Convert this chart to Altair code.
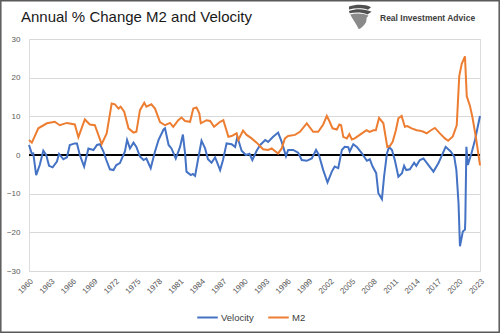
import altair as alt
import pandas as pd

# ---- data ----
m2_years = [1960.0, 1960.4, 1961.3, 1962.5, 1963.6, 1964.3, 1965.3, 1966.4, 1966.9, 1967.8,
            1968.5, 1969.2, 1970.15, 1970.85, 1971.55, 1972.0, 1972.5, 1972.8, 1973.3, 1973.9,
            1974.6, 1975.0, 1975.5, 1976.1, 1976.4, 1977.1, 1977.6, 1978.3, 1979.0, 1979.7,
            1980.15, 1980.85, 1981.3, 1981.8, 1982.5, 1982.95, 1983.4, 1983.8, 1984.0, 1984.8,
            1985.3, 1985.85, 1986.7, 1987.15, 1987.85, 1988.3, 1989.0, 1989.25, 1989.9, 1990.4,
            1991.1, 1991.8, 1992.7, 1993.4, 1993.9, 1994.8, 1995.3, 1995.75, 1996.2, 1997.15,
            1997.85, 1998.8, 1999.7, 2000.4, 2001.1, 2001.6, 2002.0, 2002.4, 2003.0, 2003.35,
            2003.6, 2003.9, 2004.4, 2004.75, 2005.1, 2005.5, 2006.2, 2007.15, 2007.6, 2008.1,
            2008.45, 2008.9, 2009.5, 2010.05, 2010.4, 2010.8, 2011.25, 2011.6, 2012.05, 2012.5,
            2012.85, 2013.45, 2014.15, 2014.6, 2015.1, 2015.55, 2016.15, 2016.7, 2017.4, 2018.1,
            2018.55, 2019.2, 2019.75, 2020.1, 2020.45, 2020.9, 2021.15, 2021.6, 2021.95, 2022.45,
            2023.0]
m2_values = [3.9, 3.2, 6.9, 8.2, 8.6, 7.7, 8.3, 7.9, 4.6, 9.2,
             7.9, 7.7, 2.8, 5.6, 13.3, 13.1, 12.0, 12.5, 11.2, 6.9,
             5.8, 6.0, 11.6, 13.5, 12.5, 13.1, 12.0, 8.5, 7.7, 8.3,
             7.3, 9.0, 9.7, 8.8, 8.6, 12.0, 12.3, 10.7, 8.2, 9.0,
             8.8, 7.3, 8.6, 9.0, 4.7, 4.9, 5.6, 3.9, 6.3, 5.2,
             4.3, 3.2, 1.5, 1.3, 1.7, 0.4, 1.7, 4.3, 4.9, 5.2,
             6.0, 8.2, 6.0, 6.0, 7.9, 10.1, 8.6, 6.9, 6.6, 7.9,
             7.7, 4.7, 4.3, 5.4, 4.0, 4.3, 5.2, 6.4, 6.0, 6.4,
             6.4, 9.6, 8.2, 2.1, 2.3, 3.4, 6.4, 9.5, 10.1, 7.3,
             7.5, 6.9, 6.4, 6.3, 6.0, 5.6, 6.4, 7.0, 5.6, 4.3,
             3.7, 4.8, 7.7, 20.4, 23.6, 25.5, 15.2, 12.7, 9.7, 4.3,
             -2.7]

vel_years = [1960.0, 1960.4, 1960.6, 1961.0, 1961.5, 1962.0, 1962.4, 1962.8, 1963.3, 1963.9,
             1964.2, 1964.8, 1965.3, 1965.7, 1966.4, 1966.7, 1967.1, 1967.7, 1968.3, 1969.0,
             1969.5, 1969.9, 1970.4, 1970.8, 1971.3, 1971.8, 1972.2, 1972.7, 1973.4, 1973.7,
             1974.1, 1974.6, 1975.0, 1975.5, 1976.0, 1976.4, 1977.0, 1977.6, 1978.1, 1978.8,
             1979.0, 1979.5, 1979.9, 1980.5, 1981.1, 1981.5, 1981.8, 1982.0, 1982.6, 1982.9,
             1983.2, 1983.6, 1984.1, 1984.6, 1985.0, 1985.5, 1986.0, 1986.7, 1987.1, 1987.6,
             1988.3, 1988.8, 1989.1, 1989.7, 1990.3, 1990.8, 1991.2, 1991.8, 1992.3, 1993.0,
             1993.4, 1994.1, 1994.8, 1995.3, 1995.9, 1996.2, 1996.9, 1997.6, 1998.1, 1998.8,
             1999.5, 2000.1, 2000.5, 2001.1, 2001.7, 2002.3, 2002.7, 2003.2, 2003.7, 2004.1,
             2004.6, 2004.8, 2005.3, 2005.8, 2006.5, 2007.2, 2007.6, 2008.0, 2008.5, 2008.8,
             2009.3, 2009.6, 2010.0, 2010.3, 2010.7, 2011.1, 2011.6, 2012.1, 2012.4, 2012.7,
             2013.2, 2013.8, 2014.1, 2014.6, 2015.1, 2015.8, 2016.5, 2017.2, 2017.6, 2018.2,
             2018.9, 2019.4, 2019.7, 2020.0, 2020.2, 2020.6, 2020.9, 2020.95, 2021.1, 2021.3,
             2021.8, 2022.3, 2023.0]
vel_values = [2.6, 0.3, 0.4, -5.2, -2.6, 1.1, 0.0, -2.8, -3.2, -1.7,
              0.3, -1.1, -0.6, 2.6, 3.0, 3.0, 0.0, -3.0, 1.7, 1.3,
              2.6, 2.8, 0.9, -1.3, -3.7, -3.9, -2.6, -2.1, 0.9, 3.9,
              1.7, 3.2, 2.1, -0.4, -1.3, -0.9, -3.4, 0.9, 3.9, 6.6,
              6.9, 2.6, 1.7, -0.9, 2.1, 5.3, 0.4, -4.3, -5.2, -4.9,
              -5.4, -1.3, 3.7, 1.7, -1.1, -2.0, -0.6, -3.9, -1.3, 3.0,
              2.8, 2.1, 4.7, 1.1, 0.0, 0.3, -1.3, 1.1, 2.6, 3.9,
              3.4, 4.7, 5.8, 3.4, -0.3, 1.3, 1.3, 0.6, -1.3, -1.5,
              -0.9, 1.3, 0.0, -3.9, -7.1, -4.3, -3.0, -3.4, 1.3, 2.1,
              2.0, 0.9, 2.8, 2.1, 0.4, -1.5, -1.1, -3.0, -4.7, -9.9,
              -11.4, -5.6, 0.4, 2.1, 1.3, -1.3, -5.6, -4.7, -2.8, -3.9,
              -3.7, -2.0, -2.8, -1.3, -0.9, -2.6, -4.3, -2.1, -0.4, 2.1,
              0.9, -0.4, -3.9, -12.4, -23.6, -19.8, -19.3, -16.8, 2.1, -2.6,
              0.4, 3.9, 10.1]

series_names = ["Velocity", "M2"]
series_colors = ["#4472C4", "#ED7D31"]
y_ticks = [-30, -20, -10, 0, 10, 20, 30]
x_ticks = list(range(1960, 2024, 3))
title_text = "Annual % Change M2 and Velocity"
brand_text = "Real Investment Advice"

df = pd.concat([
    pd.DataFrame({"year": vel_years, "value": vel_values, "series": "Velocity"}),
    pd.DataFrame({"year": m2_years, "value": m2_values, "series": "M2"}),
])

W, H = 451, 232
FONT = "Liberation Sans"
y_scale = alt.Scale(domain=[-30, 30], nice=False)
y_axis = alt.Axis(values=y_ticks, grid=True, gridColor="#D9D9D9", gridWidth=1,
                  domain=False, ticks=False, labelPadding=9, labelFontSize=8,
                  labelColor="#595959", labelFont=FONT, title=None,
                  labelOverlap=False)

x_enc = alt.X("year:Q", scale=alt.Scale(domain=[1960, 2023], nice=False, zero=False),
              axis=alt.Axis(values=x_ticks, format="d", labelAngle=-45, grid=False,
                            domain=False, ticks=False, labelPadding=6, labelFontSize=8,
                            labelColor="#595959", labelFont=FONT, title=None,
                            labelOverlap=False))

lines = alt.Chart(df).mark_line(strokeWidth=2).encode(
    x=x_enc,
    y=alt.Y("value:Q", scale=y_scale, axis=y_axis),
    color=alt.Color("series:N",
                    scale=alt.Scale(domain=series_names, range=series_colors),
                    sort=series_names,
                    legend=alt.Legend(orient="none", legendX=167, legendY=267,
                                      direction="horizontal", title=None,
                                      symbolType="stroke", symbolStrokeWidth=2,
                                      symbolSize=420, labelFontSize=9.5, labelFont=FONT,
                                      labelColor="#404040", columnPadding=10,
                                      labelOffset=2)),
    detail="series:N",
    order="year:Q",
)

zero = alt.Chart(pd.DataFrame({"value": [0]})).mark_rule(color="black", strokeWidth=2).encode(
    y=alt.Y("value:Q", scale=y_scale, axis=y_axis)
)

title = alt.Chart(pd.DataFrame({"t": [title_text]})).mark_text(
    align="left", baseline="alphabetic", fontSize=15, font=FONT, color="#1a1a1a"
).encode(x=alt.value(-8), y=alt.value(-17), text="t:N")

brand = alt.Chart(pd.DataFrame({"t": [brand_text]})).mark_text(
    align="left", baseline="middle", fontSize=8.5, fontWeight="bold", font=FONT, color="#404040"
).encode(x=alt.value(351), y=alt.value(-21), text="t:N")

logo_top = alt.Chart(pd.DataFrame({"t": [1]})).mark_point(
    shape=("M-0.9,-0.85 C-0.3,-1.05 0.4,-1.05 0.9,-0.8 L0.65,-0.6 C0.2,-0.75 -0.4,-0.75 -0.9,-0.62 Z "
           "M-0.9,-0.5 C-0.3,-0.7 0.4,-0.68 0.95,-0.42 L0.6,-0.2 C0.2,-0.4 -0.4,-0.4 -0.85,-0.3 Z"),
    filled=True, color="#505050", size=600, opacity=1
).encode(x=alt.value(331), y=alt.value(-22))

logo_body = alt.Chart(pd.DataFrame({"t": [1]})).mark_point(
    shape=("M-0.8,-0.2 C-0.3,-0.35 0.3,-0.3 0.7,-0.1 L0.55,0.05 L0.5,0.4 "
           "C0.35,0.7 0.1,0.9 -0.1,1 C-0.3,0.6 -0.55,0.25 -0.8,-0.2 Z"),
    filled=True, color="#8a8a8a", size=600, opacity=1
).encode(x=alt.value(331), y=alt.value(-22))

border = alt.Chart(pd.DataFrame({"t": [1]})).mark_rect(
    filled=False, stroke="#595959", strokeWidth=1.5
).encode(x=alt.value(-28.2), x2=alt.value(470.2), y=alt.value(-38.2), y2=alt.value(293.2))

chart = alt.layer(zero, lines, title, brand, logo_top, logo_body, border).properties(
    width=W, height=H,
    autosize=alt.AutoSizeParams(type="none"),
    padding={"left": 29, "top": 39, "right": 20, "bottom": 62},
).configure_view(stroke=None).configure(background="white")

chart.save("out.html", embed_options={"renderer": "svg", "actions": False})
